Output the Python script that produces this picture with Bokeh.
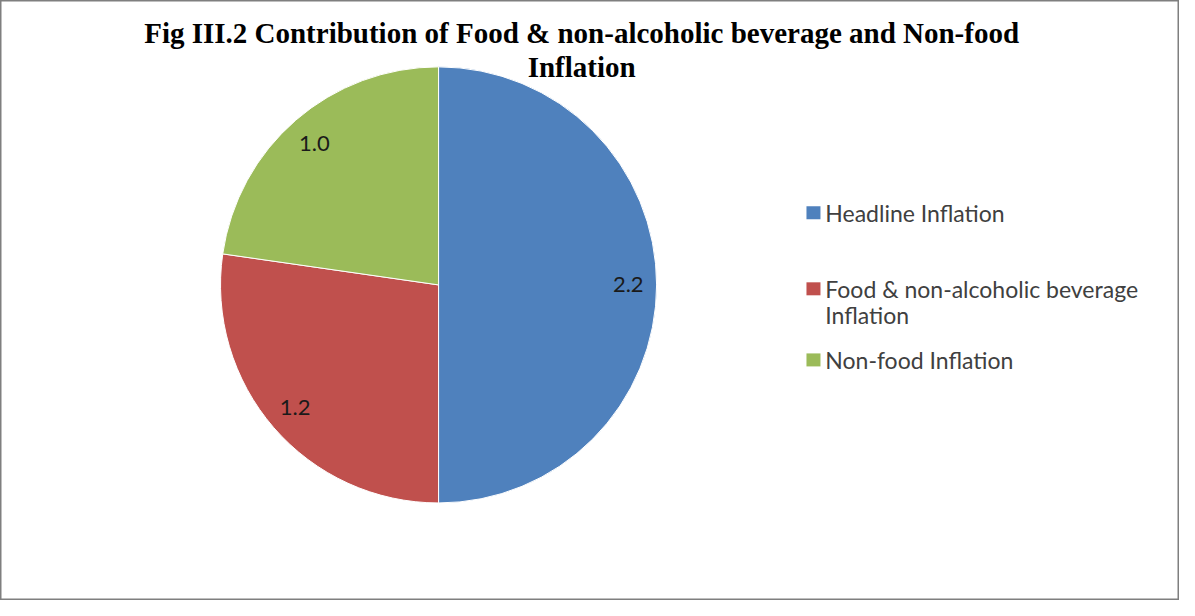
import math
from bokeh.plotting import figure
from bokeh.models import Range1d, ColumnDataSource
from bokeh.core.properties import value
from bokeh.embed import file_html
from bokeh.resources import INLINE

title_lines = ["Fig III.2 Contribution of Food & non-alcoholic beverage and Non-food", "Inflation"]
categories = ["Headline Inflation", "Food & non-alcoholic beverage Inflation", "Non-food Inflation"]
legend_lines = [["Headline Inflation"], ["Food & non-alcoholic beverage", "Inflation"], ["Non-food Inflation"]]
values = [2.2, 1.2, 1.0]
labels = ["2.2", "1.2", "1.0"]
colors = ["#4F81BD", "#C0504D", "#9BBB59"]

# layout in reference-pixel space (y measured from top)
RW, RH = 1195, 616
W, H = 1179, 600
def Y(y):
    return RH - y

p = figure(width=W, height=H, output_backend="svg", toolbar_location=None,
           x_range=Range1d(0, RW), y_range=Range1d(0, RH), min_border=0)
p.axis.visible = False
p.grid.visible = False
p.background_fill_color = "white"
p.border_fill_color = "white"
p.outline_line_color = "#7f7f7f"
p.outline_line_width = 2

cx, cy, r = 444, Y(292), 221
total = sum(values)
starts, ends, lx, ly = [], [], [], []
a = math.pi / 2
for v in values:
    span = v / total * 2 * math.pi
    s, e = a - span, a
    starts.append(s)
    ends.append(e)
    mid = (s + e) / 2
    lx.append(cx + 0.87 * r * math.cos(mid))
    ly.append(cy + 0.87 * r * math.sin(mid))
    a = s

src = ColumnDataSource(dict(start=starts, end=ends, color=colors, cat=categories))
p.wedge(x=cx, y=cy, radius=r, start_angle="start", end_angle="end",
        fill_color="color", line_color="white", line_width=1, source=src)

p.text(x=lx, y=ly, text=labels, text_align="center", text_baseline="middle",
       text_font=value("Lato"), text_font_size="22px", text_color="#1a1a1a")

# title
p.text(x=[589, 589], y=[Y(33), Y(68)], text=title_lines, text_align="center",
       text_baseline="middle", text_font=value("Liberation Serif"),
       text_font_size="29px", text_font_style="bold", text_color="#000000")

# legend
leg_y = [218, 296, 369]
line_h = 27
for i, lines in enumerate(legend_lines):
    p.rect(x=[824], y=[Y(leg_y[i])], width=14, height=13, width_units="screen",
           height_units="screen", fill_color=colors[i], line_color=None)
    ys = [Y(leg_y[i] + k * line_h) for k in range(len(lines))]
    p.text(x=[836] * len(lines), y=ys, text=lines, text_align="left",
           text_baseline="middle", text_font=value("Lato"),
           text_font_size="23px", text_color="#404040")

open("out.html", "w").write(file_html(p, INLINE))
